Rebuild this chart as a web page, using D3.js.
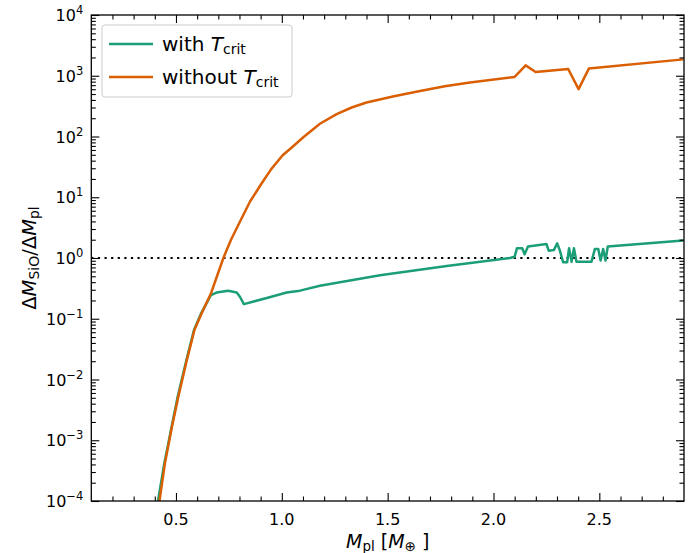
<!DOCTYPE html>
<html>
<head>
<meta charset="utf-8">
<script src="https://cdn.jsdelivr.net/npm/d3@7"></script>
<style>
  body { margin: 0; background: #fff; }
  svg { font-family: "DejaVu Sans", sans-serif; }
</style>
</head>
<body>
<svg id="chart" width="696" height="553"></svg>
<script>
// data
var withX = [0.415, 0.445, 0.508, 0.548, 0.585, 0.62, 0.665, 0.692, 0.747, 0.787, 0.802, 0.821, 0.929, 1.023, 1.086, 1.18, 1.464, 1.779, 2.078, 2.10, 2.111, 2.136, 2.147, 2.163, 2.25, 2.261, 2.285, 2.301, 2.313, 2.329, 2.348, 2.357, 2.369, 2.380, 2.392, 2.463, 2.479, 2.495, 2.506, 2.518, 2.529, 2.54, 2.897];
var withY = [1e-4, 4.2e-4, 5.2e-3, 0.02, 0.065, 0.125, 0.245, 0.27, 0.29, 0.27, 0.23, 0.174, 0.22, 0.27, 0.29, 0.35, 0.52, 0.74, 1.0, 1.05, 1.45, 1.45, 1.15, 1.55, 1.7, 1.32, 1.35, 1.74, 1.35, 0.85, 0.85, 1.45, 0.87, 1.45, 0.87, 0.87, 1.41, 1.41, 0.91, 1.41, 0.91, 1.55, 1.95];

var withoutX = [0.422, 0.448, 0.48, 0.511, 0.55, 0.587, 0.62, 0.665, 0.69, 0.724, 0.76, 0.798, 0.85, 0.905, 0.95, 1.004, 1.047, 1.103, 1.18, 1.259, 1.33, 1.40, 1.53, 1.653, 1.77, 1.889, 2.10, 2.152, 2.199, 2.353, 2.402, 2.451, 2.897];
var withoutY = [1e-4, 4.2e-4, 1.6e-3, 5.2e-3, 0.02, 0.065, 0.12, 0.26, 0.46, 1.0, 2.0, 3.7, 8.5, 17, 29, 49, 66, 98, 162, 234, 300, 363, 460, 562, 670, 776, 955, 1480, 1150, 1290, 603, 1320, 1860];

var xMajor = [0.5, 1.0, 1.5, 2.0, 2.5];
var yExponents = [-4, -3, -2, -1, 0, 1, 2, 3, 4];

var green = "#1b9e77", orange = "#d95f02";

(function () {
  var svg = d3.select("#chart");
  var pL = 91.3, pR = 684, pT = 15, pB = 501;

  var x = d3.scaleLinear().domain([0.1, 2.9]).range([pL, pR]);
  var y = d3.scaleLog().domain([1e-4, 1e4]).range([pB, pT]);

  // minor tick positions
  var xMinor = d3.range(2, 29).map(function (i) { return i / 10; })
    .filter(function (v) { return Math.abs(v * 2 - Math.round(v * 2)) > 1e-6; });
  var yMinor = [];
  yExponents.slice(0, -1).forEach(function (e) {
    for (var k = 2; k < 10; k++) yMinor.push(k * Math.pow(10, e));
  });
  var yMajor = yExponents.map(function (e) { return Math.pow(10, e); });

  svg.append("defs").append("clipPath").attr("id", "clip")
    .append("rect").attr("x", pL).attr("y", pT)
    .attr("width", pR - pL).attr("height", pB - pT);

  // dotted line at 1
  svg.append("line")
    .attr("x1", pL).attr("x2", pR)
    .attr("y1", y(1)).attr("y2", y(1))
    .attr("stroke", "#000").attr("stroke-width", 2.2)
    .attr("stroke-dasharray", "2.2,4.4");

  var line = d3.line()
    .x(function (d) { return x(d[0]); })
    .y(function (d) { return y(d[1]); });

  var g = svg.append("g").attr("clip-path", "url(#clip)");
  g.append("path")
    .datum(d3.zip(withX, withY))
    .attr("fill", "none").attr("stroke", green)
    .attr("stroke-width", 2.5).attr("stroke-linejoin", "round")
    .attr("d", line);
  g.append("path")
    .datum(d3.zip(withoutX, withoutY))
    .attr("fill", "none").attr("stroke", orange)
    .attr("stroke-width", 2.5).attr("stroke-linejoin", "round")
    .attr("d", line);

  // axes with inward ticks on all four sides
  function tickStyle(sel) {
    sel.select(".domain").remove();
    sel.selectAll("line").attr("stroke", "#000").attr("stroke-width", 1.1);
  }
  function addAxis(axis, tx, ty, vals, size) {
    return svg.append("g").attr("transform", "translate(" + tx + "," + ty + ")")
      .call(axis.tickValues(vals).tickSize(size).tickFormat(""))
      .call(tickStyle);
  }
  addAxis(d3.axisBottom(x), 0, pB, xMinor, -4.5);
  addAxis(d3.axisBottom(x), 0, pB, xMajor, -8);
  addAxis(d3.axisTop(x), 0, pT, xMinor, -4.5);
  addAxis(d3.axisTop(x), 0, pT, xMajor, -8);
  addAxis(d3.axisLeft(y), pL, 0, yMinor, -4.5);
  addAxis(d3.axisLeft(y), pL, 0, yMajor, -8);
  addAxis(d3.axisRight(y), pR, 0, yMinor, -4.5);
  addAxis(d3.axisRight(y), pR, 0, yMajor, -8);

  // x tick labels
  xMajor.forEach(function (v) {
    svg.append("text")
      .attr("x", x(v)).attr("y", pB + 24)
      .attr("text-anchor", "middle").attr("font-size", 16).attr("fill", "#000")
      .text(d3.format(".1f")(v));
  });

  // y tick labels 10^n
  yExponents.forEach(function (e) {
    var t = svg.append("text")
      .attr("x", pL - 8).attr("y", y(Math.pow(10, e)) + 6)
      .attr("text-anchor", "end").attr("font-size", 16).attr("fill", "#000");
    t.append("tspan").text("10");
    t.append("tspan").attr("dy", -7).attr("font-size", 11.5)
      .text(e < 0 ? "\u2212" + (-e) : String(e));
  });

  // frame
  svg.append("rect")
    .attr("x", pL).attr("y", pT)
    .attr("width", pR - pL).attr("height", pB - pT)
    .attr("fill", "none").attr("stroke", "#000").attr("stroke-width", 1.3);

  // axis labels
  var xl = svg.append("text")
    .attr("x", (pL + pR) / 2).attr("y", 548)
    .attr("text-anchor", "middle").attr("font-size", 19).attr("fill", "#000");
  xl.append("tspan").attr("font-style", "italic").text("M");
  xl.append("tspan").attr("font-size", 13.5).attr("dy", 3).text("pl");
  xl.append("tspan").attr("dy", -3).text(" [");
  xl.append("tspan").attr("font-style", "italic").text("M");
  xl.append("tspan").attr("font-size", 13.5).attr("dy", 3).text("\u2295");
  xl.append("tspan").attr("dy", -3).text(" ]");

  var yl = svg.append("text")
    .attr("transform", "translate(36," + y(1) + ") rotate(-90)")
    .attr("text-anchor", "middle").attr("font-size", 19.5).attr("fill", "#000");
  yl.append("tspan").text("\u0394");
  yl.append("tspan").attr("font-style", "italic").text("M");
  yl.append("tspan").attr("font-size", 14).attr("dy", 3).text("SiO");
  yl.append("tspan").attr("dy", -3).text("/\u0394");
  yl.append("tspan").attr("font-style", "italic").text("M");
  yl.append("tspan").attr("font-size", 14).attr("dy", 3).text("pl");

  // legend
  var leg = svg.append("g").attr("transform", "translate(102,25)");
  leg.append("rect")
    .attr("width", 190).attr("height", 72).attr("rx", 3)
    .attr("fill", "#fff").attr("fill-opacity", 0.8)
    .attr("stroke", "#ccc").attr("stroke-width", 1);
  var entries = [{ label: "with ", color: green }, { label: "without ", color: orange }];
  entries.forEach(function (d, i) {
    var cy = 19 + i * 33;
    leg.append("line")
      .attr("x1", 7).attr("x2", 51).attr("y1", cy).attr("y2", cy)
      .attr("stroke", d.color).attr("stroke-width", 2.5);
    var t = leg.append("text")
      .attr("x", 60).attr("y", cy + 7)
      .attr("font-size", 20).attr("fill", "#000");
    t.append("tspan").text(d.label);
    t.append("tspan").attr("font-style", "italic").text("T");
    t.append("tspan").attr("font-size", 14).attr("dy", 3).text("crit");
  });
})();
</script>
</body>
</html>
